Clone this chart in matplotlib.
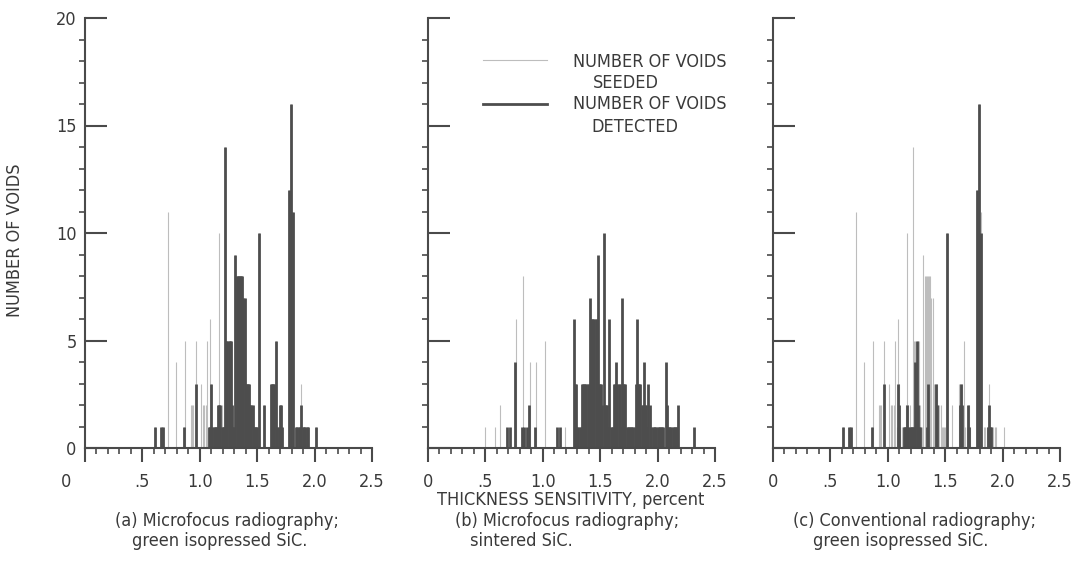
import numpy as np
import matplotlib
matplotlib.use('Agg')
import matplotlib.pyplot as plt
from matplotlib.lines import Line2D
from matplotlib.transforms import ScaledTranslation

plt.rcParams['font.family'] = ['DejaVu Sans']
plt.rcParams['font.stretch'] = 'condensed'

# seeded voids, green isopressed SiC (panels a and c share the specimen)
seeded_green_x = [0.61, 0.66, 0.68, 0.72, 0.79, 0.86, 0.87, 0.92, 0.93, 0.94,
                  0.97, 1.01, 1.03, 1.04, 1.05, 1.06, 1.08, 1.09, 1.10, 1.11,
                  1.12, 1.13, 1.14, 1.15, 1.16, 1.17, 1.18, 1.19, 1.20, 1.21,
                  1.22, 1.23, 1.24, 1.25, 1.26, 1.27, 1.28, 1.29, 1.30, 1.31,
                  1.32, 1.33, 1.34, 1.35, 1.36, 1.37, 1.38, 1.39, 1.40, 1.41,
                  1.42, 1.43, 1.44, 1.45, 1.46, 1.47, 1.48, 1.49, 1.50,
                  1.52, 1.56, 1.62, 1.63, 1.64, 1.65, 1.66, 1.67,
                  1.69, 1.70, 1.71, 1.72, 1.78, 1.795, 1.81,
                  1.84, 1.85, 1.86, 1.87, 1.885, 1.90, 1.91, 1.92, 1.93, 1.94, 2.01]
seeded_green_n = [1, 1, 1, 11, 4, 1, 5, 2, 2, 2,
                  5, 3, 2, 2, 2, 5, 1, 6, 3, 1,
                  1, 1, 1, 1, 2, 10, 2, 2, 1, 1,
                  14, 5, 5, 5, 5, 5, 2, 1, 1, 9,
                  8, 8, 8, 8, 8, 8, 7, 7, 3, 3,
                  3, 3, 2, 2, 2, 1, 1, 1, 1,
                  10, 2, 3, 3, 3, 3, 5, 1,
                  1, 2, 2, 1, 12, 16, 11,
                  1, 1, 1, 1, 3, 1, 1, 1, 1, 1, 1]

# (a) microfocus, green isopressed
detected_a_x = [0.61, 0.66, 0.68, 0.86, 0.97, 1.08, 1.09, 1.10, 1.11, 1.12,
                1.13, 1.14, 1.15, 1.16, 1.17, 1.18, 1.19, 1.20, 1.21, 1.22,
                1.23, 1.24, 1.25, 1.26, 1.27, 1.28, 1.29, 1.30, 1.31, 1.32,
                1.33, 1.34, 1.35, 1.36, 1.37, 1.38, 1.39, 1.40, 1.41, 1.42,
                1.43, 1.44, 1.45, 1.46, 1.47, 1.48, 1.49, 1.50, 1.52, 1.56,
                1.62, 1.63, 1.64, 1.65, 1.66, 1.67, 1.69, 1.70, 1.71, 1.72,
                1.78, 1.795, 1.81, 1.84, 1.85, 1.86, 1.87, 1.885,
                1.90, 1.91, 1.92, 1.93, 1.94, 2.01]
detected_a_n = [1, 1, 1, 1, 3, 1, 1, 3, 1, 1,
                1, 1, 1, 2, 2, 2, 1, 1, 1, 14,
                5, 5, 5, 5, 5, 2, 1, 1, 9, 8,
                8, 8, 8, 8, 8, 7, 7, 3, 3, 3,
                3, 2, 2, 2, 1, 1, 1, 1, 10, 2,
                3, 3, 3, 3, 5, 1, 1, 2, 2, 1,
                12, 16, 11, 1, 1, 1, 1, 2,
                1, 1, 1, 1, 1, 1]

# (c) conventional, green isopressed
detected_c_x = [0.61, 0.66, 0.68, 0.86, 0.97, 1.09, 1.10,
                1.14, 1.15, 1.16, 1.17, 1.18, 1.19, 1.20, 1.21, 1.22, 1.23,
                1.24, 1.25, 1.26, 1.27, 1.28, 1.34, 1.35, 1.42, 1.43, 1.52,
                1.63, 1.64, 1.65, 1.70, 1.71, 1.78, 1.795, 1.81,
                1.87, 1.88, 1.89, 1.90]
detected_c_n = [1, 1, 1, 1, 3, 3, 2,
                1, 1, 1, 2, 1, 1, 1, 1, 1, 1,
                4, 5, 2, 1, 1, 1, 3, 3, 2, 10,
                2, 3, 2, 2, 1, 12, 16, 10,
                1, 2, 1, 1]

# (b) microfocus, sintered
seeded_b_x = [0.50, 0.58, 0.63, 0.77, 0.83, 0.89, 0.945, 1.02, 1.19]
seeded_b_n = [1, 1, 2, 6, 8, 4, 4, 5, 1]

detected_b_x = [0.69, 0.71, 0.755, 0.82, 0.84, 0.86, 0.88, 0.93, 1.12, 1.15,
                1.27, 1.28, 1.29, 1.30, 1.31, 1.32, 1.33, 1.34, 1.35, 1.36,
                1.37, 1.38, 1.39, 1.40, 1.41, 1.42, 1.43, 1.44, 1.45, 1.46,
                1.47, 1.48, 1.49, 1.50, 1.51, 1.52, 1.53, 1.54, 1.55, 1.56,
                1.57, 1.58, 1.59, 1.60, 1.61, 1.62, 1.63, 1.64, 1.65, 1.66,
                1.67, 1.68, 1.69, 1.70, 1.71, 1.72, 1.73, 1.74, 1.75, 1.76,
                1.77, 1.78, 1.79, 1.80, 1.81, 1.82, 1.83, 1.84, 1.85, 1.86,
                1.87, 1.88, 1.89, 1.90, 1.91, 1.92, 1.93, 1.94,
                1.96, 1.97, 1.98, 1.99, 2.00, 2.01, 2.02, 2.03, 2.04, 2.05,
                2.07, 2.08, 2.09, 2.10, 2.11, 2.12, 2.13, 2.14, 2.15, 2.16,
                2.17, 2.18, 2.32]
detected_b_n = [1, 1, 4, 1, 1, 1, 2, 1, 1, 1,
                6, 3, 3, 1, 1, 1, 1, 3, 3, 3,
                3, 3, 3, 3, 7, 6, 6, 6, 6, 6,
                6, 9, 3, 3, 3, 2, 10, 2, 2, 2,
                1, 6, 1, 1, 1, 3, 3, 4, 3, 3,
                3, 1, 7, 3, 3, 3, 1, 1, 1, 1,
                1, 1, 1, 1, 3, 6, 3, 3, 3, 2,
                2, 4, 2, 2, 1, 3, 2, 1,
                1, 1, 1, 1, 1, 1, 1, 1, 1, 1,
                4, 2, 1, 1, 1, 1, 1, 1, 1, 1,
                1, 2, 1]

seeded_col = '#bdbdbd'
detected_col = '#4d4d4d'
axis_col = '#4a4a4a'
txt_col = '#3a3a3a'
fs = 13

fig = plt.figure(figsize=(10.76, 5.66), dpi=100)
lefts = [85, 428, 773]
axes = []
for l in lefts:
    axes.append(fig.add_axes([l / 1076, 118 / 566, 287 / 1076, 430 / 566]))

panels = [(seeded_green_x, seeded_green_n, detected_a_x, detected_a_n),
          (seeded_b_x, seeded_b_n, detected_b_x, detected_b_n),
          (seeded_green_x, seeded_green_n, detected_c_x, detected_c_n)]

for i, (ax, (sx, sn, dx, dn)) in enumerate(zip(axes, panels)):
    ax.vlines(sx, 0, sn, color=seeded_col, lw=0.8)
    ax.vlines(dx, 0, dn, color=detected_col, lw=2.0)
    ax.set_xlim(0, 2.5)
    ax.set_ylim(0, 20)
    for s in ['top', 'right']:
        ax.spines[s].set_visible(False)
    for s in ['left', 'bottom']:
        ax.spines[s].set_color(axis_col)
        ax.spines[s].set_linewidth(1.5)
    ax.set_xticks([0, 0.5, 1.0, 1.5, 2.0, 2.5])
    ax.set_xticklabels(['0', '.5', '1.0', '1.5', '2.0', '2.5'])
    ax.set_xticks(np.arange(0, 2.51, 0.1), minor=True)
    ax.set_yticks([0, 5, 10, 15, 20])
    ax.set_yticks(np.arange(0, 21, 1), minor=True)
    ax.tick_params(axis='x', which='major', direction='out', length=10, width=1.5,
                   color=axis_col, labelsize=fs, pad=8, labelcolor=txt_col)
    ax.tick_params(axis='x', which='minor', direction='out', length=4.5, width=1.2,
                   color=axis_col)
    ax.tick_params(axis='y', which='major', direction='in', length=16, width=1.5,
                   color=axis_col, labelsize=fs, pad=6, labelcolor=txt_col)
    ax.tick_params(axis='y', which='minor', direction='out', length=4.5, width=1.2,
                   color=axis_col)
    if i > 0:
        ax.tick_params(axis='y', labelleft=False)

# first "0" label of panel (a) sits left of the axis
lab0 = axes[0].get_xticklabels()[0]
lab0.set_transform(lab0.get_transform() + ScaledTranslation(-0.19, 0, fig.dpi_scale_trans))

fig.text(15 / 1076, 1 - 240 / 566, 'NUMBER OF VOIDS', rotation=90, ha='center', va='center',
         fontsize=fs, color=txt_col)

# legend in panel (b)
axb = axes[1]
axb.add_line(Line2D([0.19, 0.415], [0.902, 0.902], transform=axb.transAxes,
                    color=seeded_col, lw=0.8))
axb.add_line(Line2D([0.19, 0.415], [0.80, 0.80], transform=axb.transAxes,
                    color=detected_col, lw=2.0))
for txt, x, y in [('NUMBER OF VOIDS', 0.505, 0.898), ('SEEDED', 0.575, 0.850),
                  ('NUMBER OF VOIDS', 0.505, 0.800), ('DETECTED', 0.570, 0.746)]:
    axb.text(x, y, txt, transform=axb.transAxes, ha='left', va='center',
             fontsize=fs, color=txt_col, clip_on=False)

fig.text(571 / 1076, 1 - 500 / 566, 'THICKNESS SENSITIVITY, percent', ha='center', va='center',
         fontsize=fs, color=txt_col)

captions = [('(a) Microfocus radiography;', 'green isopressed SiC.', 115, 132),
            ('(b) Microfocus radiography;', 'sintered SiC.', 455, 470),
            ('(c) Conventional radiography;', 'green isopressed SiC.', 793, 813)]
for l1, l2, x1, x2 in captions:
    fig.text(x1 / 1076, 1 - 521 / 566, l1, ha='left', va='center', fontsize=fs, color=txt_col)
    fig.text(x2 / 1076, 1 - 541 / 566, l2, ha='left', va='center', fontsize=fs, color=txt_col)

fig.savefig('out.png', dpi=100, facecolor='white')
